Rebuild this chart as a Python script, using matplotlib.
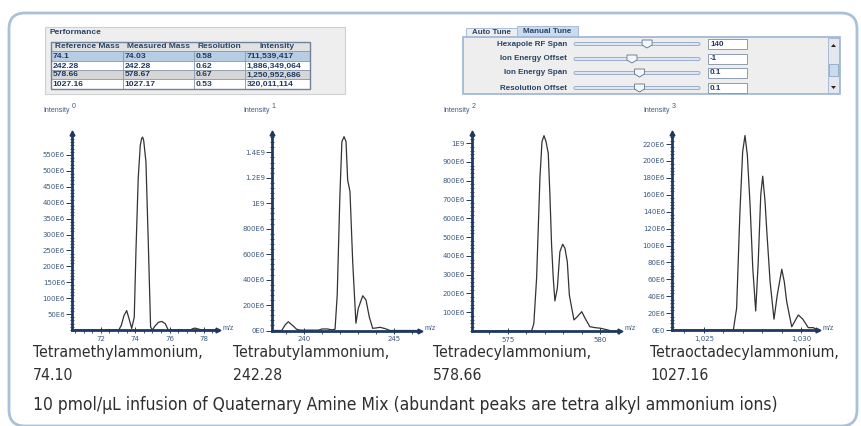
import matplotlib.pyplot as plt
from matplotlib.patches import Rectangle, FancyBboxPatch, Polygon
from matplotlib.ticker import MultipleLocator, FixedLocator

# ---- data ----
# performance table
perf_cols = ['Reference Mass', 'Measured Mass', 'Resolution', 'Intensity']
ref_mass = ['74.1', '242.28', '578.66', '1027.16']
measured_mass = ['74.03', '242.28', '578.67', '1027.17']
resolution = ['0.58', '0.62', '0.67', '0.53']
intensity = ['711,539,417', '1,886,349,064', '1,250,952,686', '320,011,114']

# manual tune panel
tune_labels = ['Hexapole RF Span', 'Ion Energy Offset', 'Ion Energy Span', 'Resolution Offset']
tune_values = ['140', '-1', '0.1', '0.1']
tune_slider = [0.58, 0.46, 0.52, 0.52]

# spectra (m/z, intensity)
mz1 = [70.33, 73.05, 73.2, 73.35, 73.51, 73.65, 73.8, 73.95, 74.05, 74.18, 74.3, 74.38, 74.44,
       74.5, 74.63, 74.77, 74.9, 75.0, 75.15, 75.35, 75.55, 75.75, 75.93, 77.2, 77.35, 77.48,
       77.62, 77.87, 78.82]
int1 = [0, 0, 15e6, 45e6, 61e6, 35e6, 5e6, 40e6, 250e6, 476e6, 580e6, 602e6, 606e6, 595e6,
        528e6, 267e6, 10e6, 0, 12e6, 24e6, 27e6, 20e6, 0, 0, 4e6, 6e6, 4e6, 0, 0]

mz2 = [238.2, 238.76, 238.94, 239.12, 239.4, 239.58, 239.8, 240.8, 241.0, 241.3, 241.55, 241.72,
       241.84, 241.99, 242.1, 242.22, 242.33, 242.42, 242.55, 242.7, 242.88, 243.01, 243.26,
       243.44, 243.62, 243.81, 244.0, 244.22, 244.5, 244.78, 246.44]
int2 = [0, 0, 43e6, 69e6, 35e6, 10e6, 3e6, 3e6, 12e6, 12e6, 5e6, 10e6, 279e6, 1065e6, 1484e6,
        1523e6, 1484e6, 1183e6, 1091e6, 541e6, 57e6, 174e6, 273e6, 240e6, 108e6, 17e6, 20e6,
        25e6, 15e6, 0, 0]

mz3 = [573.04, 576.28, 576.4, 576.55, 576.73, 576.84, 576.95, 577.06, 577.18, 577.27, 577.36,
       577.45, 577.54, 577.67, 577.81, 577.96, 578.08, 578.21, 578.32, 578.45, 578.57, 578.75,
       578.99, 579.17, 579.43, 579.7, 579.98, 580.3, 580.61, 581.06]
int3 = [0, 0, 40e6, 282e6, 815e6, 1008e6, 1040e6, 1008e6, 946e6, 724e6, 458e6, 282e6, 160e6,
        227e6, 422e6, 462e6, 441e6, 369e6, 192e6, 122e6, 59e6, 76e6, 103e6, 68e6, 23e6, 18e6,
        15e6, 8e6, 0, 0]

mz4 = [1023.37, 1026.52, 1026.69, 1026.86, 1027.0, 1027.12, 1027.24, 1027.38, 1027.52, 1027.67,
       1027.8, 1027.93, 1028.03, 1028.15, 1028.24, 1028.41, 1028.61, 1028.78, 1029.01, 1029.14,
       1029.26, 1029.52, 1029.86, 1030.09, 1030.37, 1030.63, 1030.87]
int4 = [0, 0, 26e6, 140e6, 211e6, 230e6, 207e6, 148e6, 73e6, 22.7e6, 81e6, 160e6, 182e6,
        152e6, 117e6, 57e6, 13e6, 42e6, 72e6, 57e6, 34e6, 4e6, 18e6, 13e6, 3e6, 3e6, 0]

ytick1 = [50e6, 100e6, 150e6, 200e6, 250e6, 300e6, 350e6, 400e6, 450e6, 500e6, 550e6]
ylab1 = ['50E6', '100E6', '150E6', '200E6', '250E6', '300E6', '350E6', '400E6', '450E6', '500E6', '550E6']
ytick2 = [0, 200e6, 400e6, 600e6, 800e6, 1e9, 1.2e9, 1.4e9]
ylab2 = ['0E0', '200E6', '400E6', '600E6', '800E6', '1E9', '1.2E9', '1.4E9']
ytick3 = [100e6, 200e6, 300e6, 400e6, 500e6, 600e6, 700e6, 800e6, 900e6, 1e9]
ylab3 = ['100E6', '200E6', '300E6', '400E6', '500E6', '600E6', '700E6', '800E6', '900E6', '1E9']
ytick4 = [0, 20e6, 40e6, 60e6, 80e6, 100e6, 120e6, 140e6, 160e6, 180e6, 200e6, 220e6]
ylab4 = ['0E0', '20E6', '40E6', '60E6', '80E6', '100E6', '120E6', '140E6', '160E6', '180E6', '200E6', '220E6']

xtick1 = [72, 74, 76, 78]
xlab1 = ['72', '74', '76', '78']
xtick2 = [240, 245]
xlab2 = ['240', '245']
xtick3 = [575, 580]
xlab3 = ['575', '580']
xtick4 = [1025, 1030]
xlab4 = ['1,025', '1,030']

compound = ['Tetramethylammonium,', 'Tetrabutylammonium,', 'Tetradecylammonium,', 'Tetraoctadecylammonium,']
comp_mass = ['74.10', '242.28', '578.66', '1027.16']
footer = '10 pmol/\u00b5L infusion of Quaternary Amine Mix (abundant peaks are tetra alkyl ammonium ions)'

W, H = 861, 426
navy = '#1f3a60'
tick_col = '#3d5a80'
ui_font = ['Liberation Sans', 'DejaVu Sans']
cap_font = ['DejaVu Sans']

fig = plt.figure(figsize=(W / 100, H / 100), dpi=100)
fig.patch.set_facecolor('white')

bg = fig.add_axes([0, 0, 1, 1])
bg.set_xlim(0, W)
bg.set_ylim(H, 0)
bg.axis('off')

# outer rounded frame
bg.add_patch(FancyBboxPatch((9, 13), 848, 413, boxstyle='round,pad=0,rounding_size=16',
                            fc='none', ec='#a9c1d9', lw=2))

# ---- performance table ----
bg.add_patch(Rectangle((45, 27), 300, 67, fc='#eeeeee', ec='#d0d0d0', lw=0.8))
bg.text(50, 32, 'Performance', fontsize=6, fontweight='bold', color='#2b4566',
        family=ui_font, va='center')
col_x = [51, 123, 194, 245, 310]
row_y = [42, 51, 61, 70, 79, 89]
row_bg = ['#b8cde4', 'white', '#d6d6d6', 'white']
bg.add_patch(Rectangle((col_x[0], row_y[0]), col_x[-1] - col_x[0], row_y[1] - row_y[0],
                       fc='#e2e2e2', ec='#8a9bb0', lw=0.6))
for j, name in enumerate(perf_cols):
    bg.text((col_x[j] + col_x[j + 1]) / 2, (row_y[0] + row_y[1]) / 2 + 0.5, name, fontsize=6,
            fontweight='bold', color='#2b4566', family=ui_font, ha='center', va='center')
rows = list(zip(ref_mass, measured_mass, resolution, intensity))
for i, row in enumerate(rows):
    y0, y1 = row_y[i + 1], row_y[i + 2]
    for j, val in enumerate(row):
        bg.add_patch(Rectangle((col_x[j], y0), col_x[j + 1] - col_x[j], y1 - y0,
                               fc=row_bg[i], ec='#8a9bb0', lw=0.6))
        bg.text(col_x[j] + 1.5, (y0 + y1) / 2 + 0.5, val, fontsize=6.1, fontweight='bold',
                color='#1f3a60', family=ui_font, va='center')
bg.add_patch(Rectangle((col_x[0], row_y[0]), col_x[-1] - col_x[0], row_y[-1] - row_y[0],
                       fc='none', ec='#6f8299', lw=1))

# ---- manual tune panel ----
bg.add_patch(Rectangle((466, 28), 51, 9, fc='#eeeeee', ec='#a8bcd4', lw=0.7))
bg.text(491.5, 32.5, 'Auto Tune', fontsize=5.8, fontweight='bold', color='#2b4566',
        family=ui_font, ha='center', va='center')
bg.add_patch(Rectangle((517, 26), 61, 11, fc='#c9dbef', ec='#a8bcd4', lw=0.7))
bg.text(547.5, 31.5, 'Manual Tune', fontsize=5.8, fontweight='bold', color='#2b4566',
        family=ui_font, ha='center', va='center')
bg.add_patch(Rectangle((463, 37), 377, 57, fc='#eeeeee', ec='#9db4d3', lw=1.2))
row_tune = [44, 59, 73, 88]
for lab, val, pos, yy in zip(tune_labels, tune_values, tune_slider, row_tune):
    bg.text(567, yy, lab, fontsize=5.8, fontweight='bold', color='#2b4566',
            family=ui_font, ha='right', va='center')
    bg.add_patch(FancyBboxPatch((574, yy - 1.5), 126, 3, boxstyle='round,pad=0,rounding_size=1.5',
                                fc='#dce6f2', ec='#8ea6c6', lw=0.6))
    tx = 574 + pos * 126
    bg.add_patch(Polygon([(tx - 5, yy - 4), (tx + 5, yy - 4), (tx + 5, yy + 1), (tx, yy + 4),
                          (tx - 5, yy + 1)], fc='#f4f6f9', ec='#5d7290', lw=0.6))
    bg.add_patch(Rectangle((708, yy - 5), 39, 10, fc='white', ec='#7d8fa8', lw=0.6))
    bg.text(710, yy, val, fontsize=5.8, fontweight='bold', color='#1f3a60',
            family=ui_font, va='center')
# scrollbar
bg.add_patch(Rectangle((828, 38), 11, 55, fc='#e4e8ee', ec='#9db4d3', lw=0.6))
bg.add_patch(Polygon([(831, 47), (836, 47), (833.5, 44)], fc='#222222', ec='none'))
bg.add_patch(Polygon([(831, 86), (836, 86), (833.5, 89)], fc='#222222', ec='none'))
bg.add_patch(Rectangle((829, 64), 9, 12, fc='#c9dbef', ec='#8ea6c6', lw=0.6))

# ---- spectra ----
charts = [
    dict(x0=72, x1=218, top=133, bot=330, xlim=(70.33, 78.82), ymax=619e6, mz=mz1, inten=int1,
         yt=ytick1, yl=ylab1, ymin=10e6, xt=xtick1, xl=xlab1, xmin=0.5, idx='0'),
    dict(x0=271.7, x1=420, top=133, bot=330.5, xlim=(238.2, 246.44), ymax=1552e6, mz=mz2,
         inten=int2, yt=ytick2, yl=ylab2, ymin=40e6, xt=xtick2, xl=xlab2, xmin=1, idx='1'),
    dict(x0=471.7, x1=620, top=133, bot=331, xlim=(573.04, 581.06), ymax=1054e6, mz=mz3,
         inten=int3, yt=ytick3, yl=ylab3, ymin=20e6, xt=xtick3, xl=xlab3, xmin=1, idx='2'),
    dict(x0=672, x1=818, top=133, bot=330.2, xlim=(1023.37, 1030.87), ymax=233e6, mz=mz4,
         inten=int4, yt=ytick4, yl=ylab4, ymin=4e6, xt=xtick4, xl=xlab4, xmin=1, idx='3'),
]

for c in charts:
    ax = fig.add_axes([c['x0'] / W, 1 - c['bot'] / H, (c['x1'] - c['x0']) / W,
                       (c['bot'] - c['top']) / H])
    ax.patch.set_alpha(0)
    ax.plot(c['mz'], c['inten'], color='#333333', lw=0.9)
    ax.set_xlim(*c['xlim'])
    ax.set_ylim(0, c['ymax'])
    for s in ['top', 'right']:
        ax.spines[s].set_visible(False)
    for s in ['left', 'bottom']:
        ax.spines[s].set_color(navy)
        ax.spines[s].set_linewidth(2)
    ax.yaxis.set_major_locator(FixedLocator(c['yt']))
    ax.set_yticklabels(c['yl'])
    ax.yaxis.set_minor_locator(MultipleLocator(c['ymin']))
    ax.xaxis.set_major_locator(FixedLocator(c['xt']))
    ax.set_xticklabels(c['xl'])
    ax.xaxis.set_minor_locator(MultipleLocator(c['xmin']))
    ax.tick_params(axis='y', which='major', direction='out', length=4, width=0.7,
                   color=navy, labelsize=5, labelcolor=tick_col, pad=1)
    ax.tick_params(axis='y', which='minor', direction='inout', length=3, width=0.6, color=navy)
    ax.tick_params(axis='x', which='major', direction='inout', length=4, width=0.7,
                   color=navy, labelsize=5, labelcolor=tick_col, pad=2)
    ax.tick_params(axis='x', which='minor', direction='out', length=2, width=0.6, color=navy)
    ax.plot([0], [1], marker='^', ms=3.5, color=navy, transform=ax.transAxes, clip_on=False)
    ax.plot([1], [0], marker='>', ms=3.5, color=navy, transform=ax.transAxes, clip_on=False)
    bg.text(c['x1'] + 5, c['bot'] - 2, 'm/z', fontsize=5, color=tick_col, family=ui_font,
            va='center')
    bg.text(c['x0'] - 2, 111, 'Intensity', fontsize=5, color=tick_col, family=ui_font,
            ha='right', va='center')
    bg.text(c['x0'], 106, c['idx'], fontsize=5, color=tick_col, family=ui_font,
            ha='left', va='center')

# captions
cap_x = [33, 233, 433, 650]
for x, name, m in zip(cap_x, compound, comp_mass):
    bg.text(x, 352, name, fontsize=11.3, color='#2f2f2f', family=cap_font,
            fontstretch='condensed', va='center')
    bg.text(x, 376, m, fontsize=11.3, color='#2f2f2f', family=cap_font,
            fontstretch='condensed', va='center')
bg.text(33, 405, footer, fontsize=12.5, color='#2f2f2f', family=cap_font,
        fontstretch='condensed', va='center')

fig.savefig('out.png', dpi=100)
